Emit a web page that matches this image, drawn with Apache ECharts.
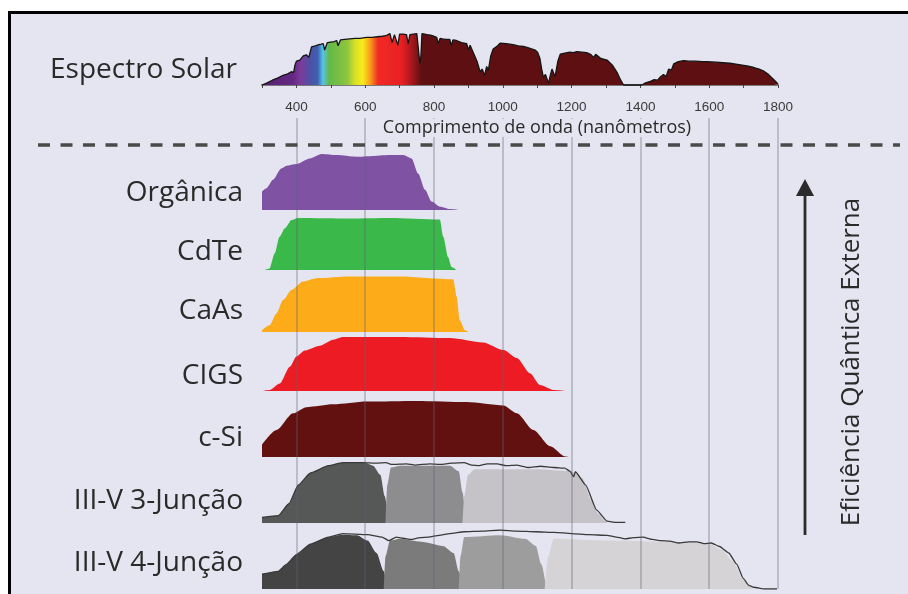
<!DOCTYPE html>
<html>
<head>
<meta charset="utf-8">
<script src="https://cdn.jsdelivr.net/npm/echarts@6/dist/echarts.min.js"></script>
<style>
  html, body { margin: 0; background: #fff; }
  #chart { width: 908px; height: 594px; }
</style>
</head>
<body>
<div id="chart"></div>
<script>
// comprimentos de onda das linhas verticais (nm)
var gridNm = [400, 600, 800, 1000, 1200, 1400, 1600, 1800]

var rowLabels = ['Orgânica', 'CdTe', 'CaAs', 'CIGS', 'c-Si', 'III-V 3-Junção', 'III-V 4-Junção']

// espectro solar [nm, intensidade relativa]
var solarSpectrum = [
  [300,0],[315,0.04],[330,0.09],[345,0.13],[361,0.18],[375,0.21],[385,0.25],[392,0.24],[396,0.38],[400,0.45],
  [410,0.47],[420,0.55],[429,0.57],[436,0.52],[444,0.72],[455,0.74],[465,0.76],[472,0.77],[478,0.78],[482,0.66],
  [490,0.8],[500,0.81],[510,0.82],[517,0.84],[521,0.74],[528,0.85],[540,0.86],[555,0.87],[570,0.88],[585,0.88],
  [604,0.9],[620,0.9],[635,0.91],[650,0.92],[660,0.93],[665,0.96],[672,0.97],[678,0.8],[685,0.95],[690,0.97],
  [695,0.75],[700,0.96],[710,0.96],[715,0.94],[720,0.95],[725,0.78],[730,0.95],[740,0.96],[750,0.97],[755,0.96],
  [759,0.4],[762,0.55],[765,0.97],[769,0.96],[780,0.95],[790,0.94],[800,0.92],[808,0.9],[812,0.78],[818,0.88],
  [825,0.87],[835,0.86],[846,0.86],[850,0.74],[855,0.85],[865,0.84],[880,0.8],[895,0.78],[900,0.66],[905,0.75],
  [915,0.6],[925,0.45],[934,0.25],[940,0.3],[947,0.18],[953,0.35],[958,0.28],[965,0.55],[972,0.68],[985,0.74],
  [992,0.79],[1010,0.78],[1030,0.76],[1045,0.74],[1060,0.73],[1075,0.7],[1094,0.66],[1101,0.62],[1108,0.5],[1113,0.3],
  [1118,0.15],[1124,0.2],[1133,0.03],[1138,0.18],[1143,0.3],[1148,0.22],[1152,0.16],[1160,0.45],[1167,0.58],[1180,0.6],
  [1195,0.62],[1205,0.61],[1215,0.63],[1230,0.62],[1244,0.61],[1255,0.58],[1264,0.52],[1270,0.58],[1274,0.55],[1285,0.5],
  [1303,0.47],[1318,0.38],[1332,0.24],[1342,0.1],[1351,0],[1404,0],[1415,0.04],[1429,0.07],[1440,0.1],[1450,0.09],
  [1458,0.15],[1467,0.2],[1475,0.16],[1482,0.3],[1490,0.28],[1497,0.4],[1510,0.44],[1526,0.46],[1540,0.45],[1560,0.45],
  [1580,0.44],[1594,0.44],[1620,0.43],[1640,0.42],[1660,0.41],[1691,0.38],[1710,0.36],[1730,0.33],[1745,0.3],[1759,0.26],
  [1772,0.2],[1788,0.1],[1800,0.02]
]

// eficiência quântica externa de cada célula [nm, EQE relativa]
var organica = [[300,0.33],[313,0.39],[332,0.54],[356,0.74],[371,0.79],[400,0.82],[439,0.92],[473,1],[517,0.98],[575,0.95],
  [614,0.96],[672,0.98],[711,0.98],[735,0.92],[754,0.65],[774,0.36],[793,0.15],[817,0.06],[846,0.02],[875,0]]
var cdte = [[308,0],[322,0.03],[337,0.32],[351,0.64],[366,0.8],[386,0.96],[405,1],[555,0.99],[672,1],[817,0.97],
  [827,0.64],[841,0.25],[851,0.06],[866,0]]
var caas = [[300,0.03],[322,0.12],[342,0.33],[361,0.57],[386,0.75],[419,0.9],[458,0.96],[555,0.99],[701,0.99],[856,0.94],
  [866,0.63],[875,0.21],[890,0.03],[900,0]]
var cigs = [[300,0],[322,0.02],[352,0.14],[381,0.45],[400,0.64],[424,0.75],[468,0.84],[507,0.95],[536,1],[701,1],
  [846,0.98],[943,0.9],[1002,0.76],[1041,0.61],[1079,0.33],[1108,0.11],[1147,0.02],[1186,0]]
var cSi = [[300,0.22],[342,0.48],[390,0.78],[429,0.89],[507,0.94],[604,0.99],[750,1],[895,0.98],[1002,0.92],[1041,0.78],
  [1089,0.48],[1138,0.19],[1181,0.01],[1195,0]]

var j3Top = [[300,0.09],[347,0.12],[379,0.32],[405,0.62],[441,0.82],[493,0.94],[535,0.99],[597,0.99],[623,0.94],[644,0.79],
  [657,0.44],[668,0]]
var j3Mid = [[659,0],[664,0.62],[675,0.91],[701,0.94],[846,0.94],[872,0.85],[883,0.5],[893,0.09],[901,0]]
var j3Bot = [[883,0],[888,0.44],[899,0.79],[919,0.88],[1096,0.88],[1200,0.85],[1231,0.74],[1257,0.38],[1277,0.15],[1299,0.03],[1303,0]]
var j3Total = [[300,0.09],[347,0.12],[379,0.32],[405,0.62],[441,0.82],[493,0.94],[535,0.99],[597,0.99],[630,0.98],[660,0.99],
  [678,0.96],[720,0.97],[745,0.95],[788,0.97],[820,0.96],[850,0.98],[887,0.99],[910,0.95],[931,0.94],[955,0.97],
  [983,0.97],[1010,0.94],[1040,0.95],[1075,0.91],[1110,0.93],[1148,0.91],[1180,0.9],[1195,0.85],[1206,0.76],[1211,0.84],
  [1241,0.62],[1273,0.21],[1303,0.03],[1330,0.01],[1356,0.01]]

var j4Top = [[300,0.25],[347,0.3],[372,0.42],[399,0.58],[441,0.76],[493,0.88],[535,0.92],[576,0.91],[607,0.82],[633,0.61],
  [654,0.3],[664,0]]
var j4Mid = [[654,0],[659,0.55],[672,0.82],[701,0.85],[763,0.8],[826,0.73],[857,0.61],[872,0.3],[886,0]]
var j4Low = [[872,0],[877,0.55],[888,0.88],[992,0.91],[1065,0.85],[1096,0.73],[1112,0.42],[1127,0]]
var j4Bot = [[1122,0],[1132,0.55],[1148,0.85],[1303,0.82],[1460,0.8],[1595,0.78],[1636,0.67],[1667,0.48],[1699,0.18],[1720,0.03],[1730,0]]
var j4Total = [[300,0.25],[347,0.3],[372,0.42],[399,0.58],[441,0.76],[493,0.88],[535,0.94],[607,0.92],[649,0.88],[669,0.82],
  [690,0.88],[710,0.86],[732,0.84],[760,0.87],[784,0.88],[815,0.91],[846,0.94],[888,0.97],[940,0.98],[992,1],
  [1040,0.98],[1096,0.97],[1150,0.96],[1200,0.94],[1250,0.92],[1303,0.91],[1330,0.88],[1355,0.85],[1380,0.87],[1408,0.88],
  [1435,0.84],[1460,0.82],[1485,0.81],[1512,0.78],[1540,0.8],[1564,0.8],[1585,0.77],[1606,0.78],[1630,0.72],[1657,0.61],
  [1680,0.42],[1699,0.18],[1715,0.06],[1730,0.03],[1761,0],[1797,0]]

// posição vertical de cada linha (topo = pico, base)
var rowBoxes = [[154, 210], [218, 270], [276, 332], [337, 391], [401, 457], [462, 523], [530, 589]]
var rowLabelY = [193, 252, 311, 376, 438, 501, 563]

var rowParts = [
  [{ data: organica, color: '#7f52a3' }],
  [{ data: cdte, color: '#3bb84a' }],
  [{ data: caas, color: '#fdab19' }],
  [{ data: cigs, color: '#ed1c24' }],
  [{ data: cSi, color: '#631011' }],
  [{ data: j3Top, color: '#555856' }, { data: j3Mid, color: '#8d8d8f' }, { data: j3Bot, color: '#c5c3c7' }],
  [{ data: j4Top, color: '#444444' }, { data: j4Mid, color: '#7b7b7b' }, { data: j4Low, color: '#9d9d9e' }, { data: j4Bot, color: '#d5d3d5' }]
]
var rowTotals = [null, null, null, null, null, j3Total, j4Total]

var BG = '#e5e5f1'
var FONT = '"Open Sans", "Noto Sans", sans-serif'
var plotLeft = 262
var plotWidth = 516

var myChart = echarts.init(document.getElementById('chart'))

var grids = []
var xAxes = []
var yAxes = []
var series = []

// grade 0: espectro solar
grids.push({ left: plotLeft, width: plotWidth, top: 32, height: 62 })
xAxes.push({
  gridIndex: 0, type: 'value', min: 300, max: 1800, interval: 100,
  axisLine: { lineStyle: { color: '#7a7a7a', width: 2 } },
  axisTick: { length: 3, lineStyle: { color: '#444', width: 1 } },
  axisLabel: {
    margin: 6, fontSize: 13.5, color: '#3a3a3a', fontFamily: '"Liberation Sans Narrow", "Liberation Sans", sans-serif',
    showMinLabel: true, showMaxLabel: true,
    formatter: function (v) { return v % 200 === 0 ? String(v) : '' }
  },
  splitLine: { show: false }
})
yAxes.push({ gridIndex: 0, type: 'value', min: -0.17, max: 1, show: false })
series.push({
  type: 'line', xAxisIndex: 0, yAxisIndex: 0, data: solarSpectrum, showSymbol: false, silent: true,
  lineStyle: { color: '#151515', width: 1.3 },
  areaStyle: {
    opacity: 1,
    color: new echarts.graphic.LinearGradient(0, 0, 1, 0, [
      { offset: 0, color: '#55206b' },
      { offset: 0.06, color: '#652784' },
      { offset: 0.075, color: '#7b3b98' },
      { offset: 0.095, color: '#4a52a6' },
      { offset: 0.108, color: '#4060b0' },
      { offset: 0.118, color: '#55c4e9' },
      { offset: 0.13, color: '#62b947' },
      { offset: 0.165, color: '#8cc540' },
      { offset: 0.18, color: '#d6df26' },
      { offset: 0.195, color: '#f8ec1c' },
      { offset: 0.21, color: '#f89a1c' },
      { offset: 0.225, color: '#ef2b24' },
      { offset: 0.27, color: '#ea1f24' },
      { offset: 0.29, color: '#a8171b' },
      { offset: 0.306, color: '#6a1113' },
      { offset: 0.31, color: '#5e0f11' },
      { offset: 1, color: '#5e0f11' }
    ])
  }
})

// grades 1..7: células
rowBoxes.forEach(function (box, i) {
  var g = i + 1
  grids.push({ left: plotLeft, width: plotWidth, top: box[0], height: box[1] - box[0] })
  xAxes.push({ gridIndex: g, type: 'value', min: 300, max: 1800, show: false })
  yAxes.push({ gridIndex: g, type: 'value', min: 0, max: 1, show: false })
  rowParts[i].forEach(function (p) {
    series.push({
      type: 'line', xAxisIndex: g, yAxisIndex: g, data: p.data, showSymbol: false, silent: true,
      smooth: 0.25, smoothMonotone: 'x',
      lineStyle: { width: 0 },
      areaStyle: { color: p.color, opacity: 1 },
      z: 2
    })
  })
  if (rowTotals[i]) {
    series.push({
      type: 'line', xAxisIndex: g, yAxisIndex: g, data: rowTotals[i], showSymbol: false, silent: true,
      smooth: 0.15, smoothMonotone: 'x',
      lineStyle: { color: '#3a3a3a', width: 1.3 },
      z: 3
    })
  }
})

// grade 8: linhas verticais por cima das áreas
grids.push({ left: plotLeft, width: plotWidth, top: 118, height: 471 })
xAxes.push({ gridIndex: 8, type: 'value', min: 300, max: 1800, show: false })
yAxes.push({ gridIndex: 8, type: 'value', min: 0, max: 1, show: false })
series.push({
  type: 'line', xAxisIndex: 8, yAxisIndex: 8, data: [[300, 0], [1800, 0]], showSymbol: false, silent: true,
  lineStyle: { opacity: 0 },
  z: 5,
  markLine: {
    silent: true, symbol: 'none', label: { show: false }, emphasis: { disabled: true },
    lineStyle: { color: 'rgba(95,95,115,0.42)', width: 1.5, type: 'solid' },
    data: gridNm.map(function (v) { return { xAxis: v } })
  }
})

var graphics = [
  // moldura
  { type: 'rect', z: -10, shape: { x: 9.5, y: 12.5, width: 960, height: 640 },
    style: { fill: BG, stroke: '#000', lineWidth: 3 } },
  { type: 'text', z: 10, style: { text: 'Espectro Solar', x: 237, y: 70, fill: '#2a2a2a', fontSize: 28, fontFamily: FONT, align: 'right', verticalAlign: 'middle' } },
  { type: 'text', z: 100, style: { text: 'Comprimento de onda (nanômetros)', x: 537, y: 128, fill: '#2a2a2a', fontSize: 18, fontFamily: FONT,
    align: 'center', verticalAlign: 'middle', backgroundColor: BG, padding: [0, 6] } },
  { type: 'line', z: 10, shape: { x1: 38, y1: 145, x2: 900, y2: 145 },
    style: { stroke: '#4a4a4a', lineWidth: 3.5, lineDash: [12, 10.5] } },
  // seta
  { type: 'line', z: 10, shape: { x1: 805, y1: 535, x2: 805, y2: 192 }, style: { stroke: '#2b2b2b', lineWidth: 2.8 } },
  { type: 'polygon', z: 10, shape: { points: [[805, 179], [796, 196], [814, 196]] }, style: { fill: '#2b2b2b' } },
  { type: 'text', z: 10, x: 852, y: 362, rotation: Math.PI / 2,
    style: { text: 'Eficiência Quântica Externa', x: 0, y: 0, fill: '#2a2a2a', fontSize: 26, fontFamily: FONT, align: 'center', verticalAlign: 'middle' } }
]
rowLabels.forEach(function (t, i) {
  graphics.push({ type: 'text', z: 10, style: { text: t, x: 243, y: rowLabelY[i], fill: '#2a2a2a', fontSize: 28, fontFamily: FONT, align: 'right', verticalAlign: 'middle' } })
})

myChart.setOption({
  backgroundColor: 'transparent',
  animation: false,
  grid: grids,
  xAxis: xAxes,
  yAxis: yAxes,
  series: series,
  graphic: { elements: graphics }
})
</script>
</body>
</html>
